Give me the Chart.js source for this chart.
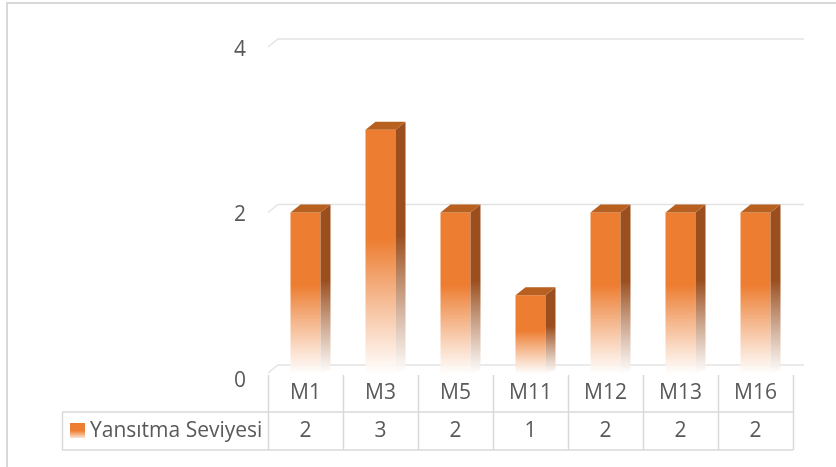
<!DOCTYPE html>
<html>
<head>
<meta charset="utf-8">
<script src="https://cdn.jsdelivr.net/npm/chart.js@4/dist/chart.umd.min.js"></script>
<style>
  body { margin: 0; background: #fff; }
  #wrap { width: 836px; height: 467px; }
</style>
</head>
<body>
<div id="wrap"><canvas id="seviyeChart" width="836" height="467"></canvas></div>
<script>
var categories = ["M1", "M3", "M5", "M11", "M12", "M13", "M16"];
var seviye = [2, 3, 2, 1, 2, 2, 2];
var seriesName = "Yansıtma Seviyesi";
var yTicks = [0, 2, 4];

var FONT = "'Open Sans', sans-serif";
var TEXT = "#595959";
var LINE = "#d9d9d9";
var DX = 10, DY = 8; // 3d depth

function fadeGradient(c, top, bottom, color) {
    var g = c.createLinearGradient(0, top, 0, bottom);
    g.addColorStop(0, color);
    g.addColorStop(0.45, color);
    g.addColorStop(1, "rgba(255,255,255,0.9)");
    return g;
}

var depthPlugin = {
    id: "depth",
    beforeDraw: function (chart) {
        var c = chart.ctx;
        // outer border
        c.save();
        c.fillStyle = LINE;
        c.fillRect(6, 2, 836, 2);
        c.fillRect(6, 2, 2, 467);
        c.restore();
    },
    beforeDatasetsDraw: function (chart) {
        var c = chart.ctx, y = chart.scales.y, a = chart.chartArea;
        c.save();
        c.strokeStyle = "#e3e3e3";
        c.lineWidth = 1.5;
        yTicks.forEach(function (v) {
            var py = y.getPixelForValue(v);
            if (v === 0) py -= 5;
            c.beginPath();
            c.moveTo(a.left, py);
            c.lineTo(a.left + DX, py - DY);
            c.lineTo(a.right + DX + 1, py - DY);
            c.stroke();
        });
        c.restore();
    },
    afterDatasetsDraw: function (chart) {
        var c = chart.ctx;
        var meta = chart.getDatasetMeta(0);
        c.save();
        meta.data.forEach(function (bar) {
            var xl = bar.x - bar.width / 2, xr = bar.x + bar.width / 2;
            var top = bar.y, base = bar.base;
            // side face
            c.fillStyle = fadeGradient(c, top - DY, base - 4, "#9b4f1f");
            c.beginPath();
            c.moveTo(xr, top);
            c.lineTo(xr + DX, top - DY);
            c.lineTo(xr + DX, base - DY);
            c.lineTo(xr, base - 4);
            c.closePath();
            c.fill();
            // top face
            c.fillStyle = "#b8601f";
            c.beginPath();
            c.moveTo(xl, top);
            c.lineTo(xl + DX, top - DY);
            c.lineTo(xr + DX, top - DY);
            c.lineTo(xr, top);
            c.closePath();
            c.fill();
        });
        c.restore();
    },
    afterDraw: function (chart) {
        // data table under the plot
        var c = chart.ctx, x = chart.scales.x, a = chart.chartArea;
        var step = (a.right - a.left) / categories.length;
        var rowTop = 375, rowMid = 412, rowBot = 450, tableLeft = 62;
        c.save();
        c.strokeStyle = LINE;
        c.lineWidth = 1.5;
        c.beginPath();
        for (var i = 0; i <= categories.length; i++) {
            var px = Math.round(a.left + i * step) + 0.5;
            c.moveTo(px, rowTop);
            c.lineTo(px, rowBot);
        }
        c.moveTo(tableLeft, rowMid);
        c.lineTo(a.right, rowMid);
        c.moveTo(tableLeft, rowBot);
        c.lineTo(a.right, rowBot);
        c.moveTo(tableLeft + 0.5, rowMid);
        c.lineTo(tableLeft + 0.5, rowBot);
        c.stroke();

        c.fillStyle = TEXT;
        c.font = "21px " + FONT;
        c.textAlign = "center";
        c.textBaseline = "middle";
        categories.forEach(function (cat, i) {
            var cx = x.getPixelForValue(i);
            c.fillText(cat, cx, 393);
            c.fillText(String(seviye[i]), cx, 431);
        });
        // legend key + series name
        var kg = c.createLinearGradient(0, 423, 0, 438);
        kg.addColorStop(0, "#ed7d31");
        kg.addColorStop(0.5, "#ed7d31");
        kg.addColorStop(1, "#fbe3d2");
        c.fillStyle = kg;
        c.fillRect(70, 423, 15, 15);
        c.fillStyle = TEXT;
        c.textAlign = "left";
        c.fillText(seriesName, 90, 431);
        c.restore();
    }
};

var ctx = document.getElementById("seviyeChart");
var seviyeChart = new Chart(ctx, {
    type: "bar",
    data: {
        labels: categories,
        datasets: [{
            label: seriesName,
            data: seviye,
            backgroundColor: function (context) {
                var chart = context.chart;
                if (!chart.chartArea) return "#ed7d31";
                var y = chart.scales.y;
                var v = seviye[context.dataIndex];
                return fadeGradient(chart.ctx, y.getPixelForValue(v), y.getPixelForValue(0) - 4, "#ed7d31");
            },
            borderWidth: 0,
            categoryPercentage: 1,
            barPercentage: 0.4
        }]
    },
    options: {
        responsive: false,
        animation: false,
        devicePixelRatio: 1,
        layout: { padding: { left: 0, right: 43, top: 47, bottom: 89 } },
        plugins: {
            legend: { display: false },
            tooltip: { enabled: false }
        },
        scales: {
            x: { display: false },
            y: {
                min: 0,
                max: 4,
                afterFit: function (scale) { scale.width = 268; },
                afterBuildTicks: function (scale) {
                    scale.ticks = yTicks.map(function (v) { return { value: v }; });
                },
                grid: { display: false, drawTicks: false },
                border: { display: false },
                ticks: {
                    padding: 22,
                    labelOffset: 3,
                    color: TEXT,
                    font: { family: FONT, size: 21 }
                }
            }
        }
    },
    plugins: [depthPlugin]
});
</script>
</body>
</html>
